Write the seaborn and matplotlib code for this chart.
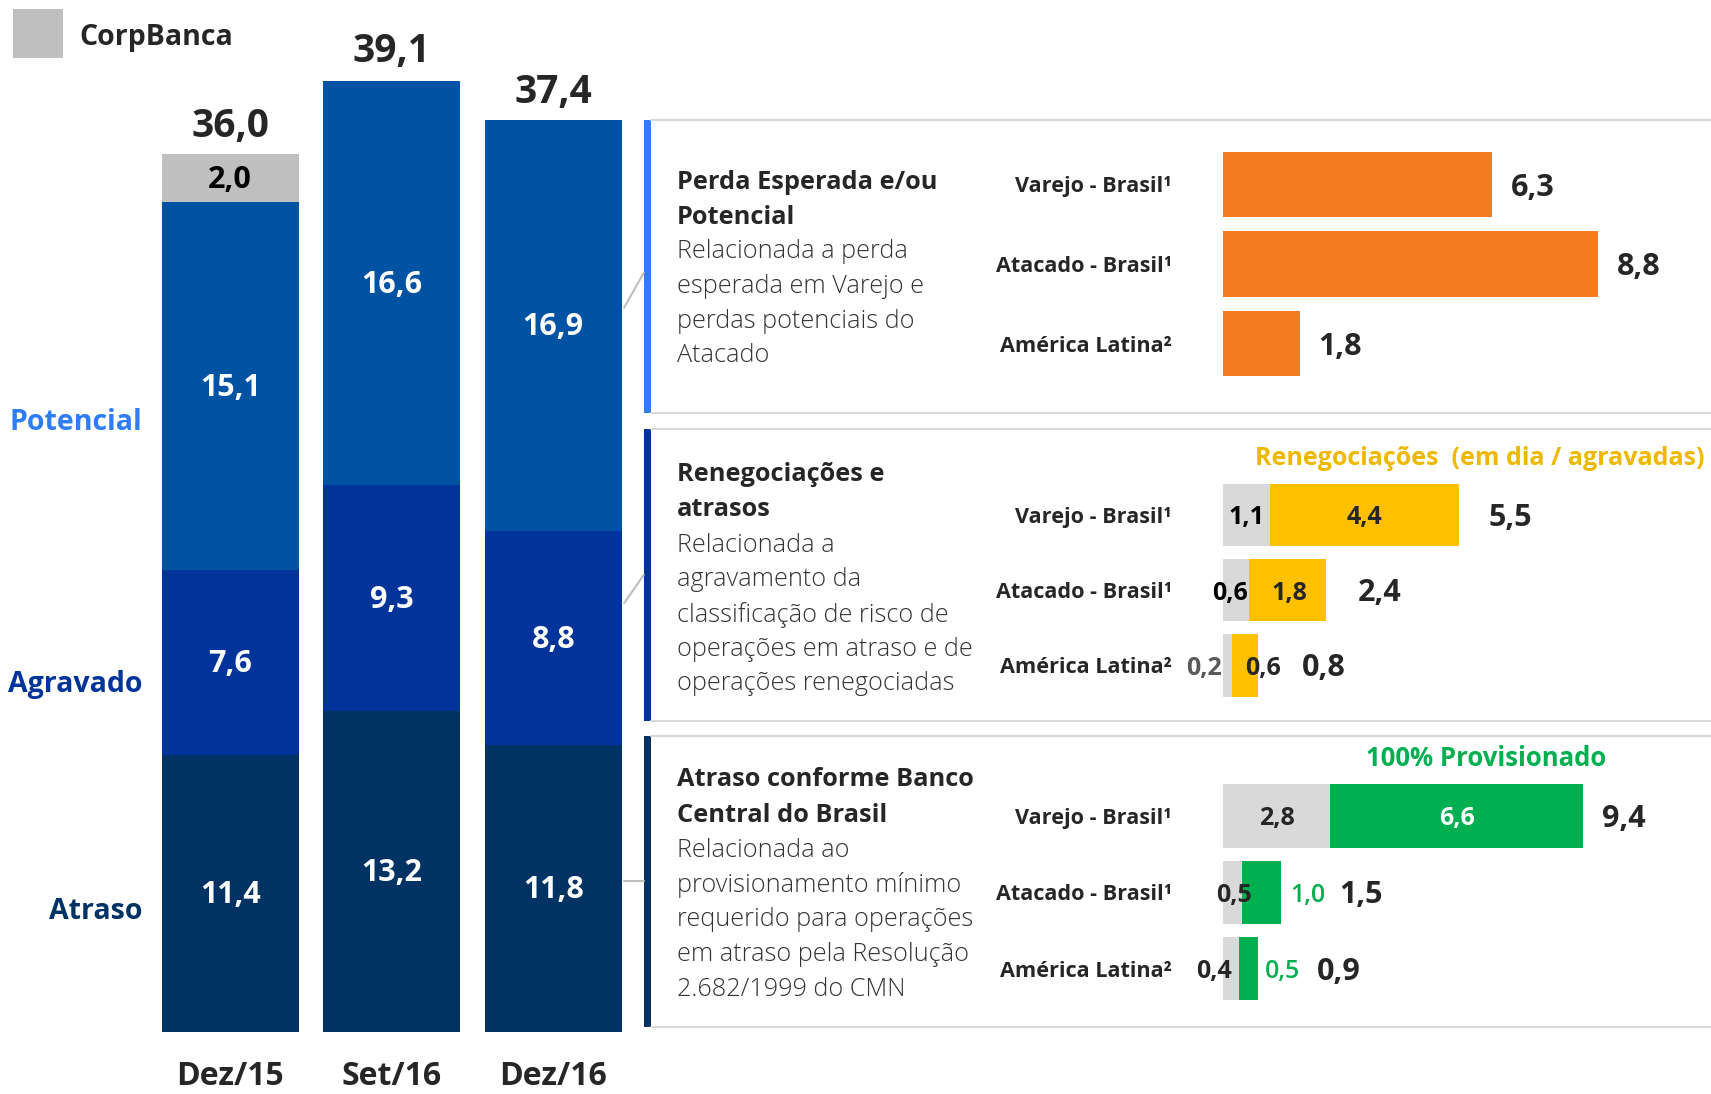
import matplotlib
matplotlib.use("Agg")
import matplotlib.pyplot as plt
from matplotlib.patches import Rectangle
from matplotlib.lines import Line2D
import seaborn as sns

# ---- data: left stacked bars (R$ bilhões)
periods = ["Dez/15", "Set/16", "Dez/16"]
atraso = [11.4, 13.2, 11.8]
agravado = [7.6, 9.3, 8.8]
potencial = [15.1, 16.6, 16.9]
corpbanca = [2.0, 0.0, 0.0]
totals = [36.0, 39.1, 37.4]

# ---- data: right panels
regions = ["Varejo - Brasil¹", "Atacado - Brasil¹", "América Latina²"]
perda = [6.3, 8.8, 1.8]
reneg_em_dia = [1.1, 0.6, 0.2]
reneg_agravadas = [4.4, 1.8, 0.6]
reneg_total = [5.5, 2.4, 0.8]
atr_outros = [2.8, 0.5, 0.4]
atr_provisionado = [6.6, 1.0, 0.5]
atr_total = [9.4, 1.5, 0.9]

panel_titles = [["Perda Esperada e/ou", "Potencial"],
                ["Renegociações e", "atrasos"],
                ["Atraso conforme Banco", "Central do Brasil"]]
panel_desc = [["Relacionada a perda", "esperada em Varejo e", "perdas potenciais do", "Atacado"],
              ["Relacionada a", "agravamento da", "classificação de risco de",
               "operações em atraso e de", "operações renegociadas"],
              ["Relacionada ao", "provisionamento mínimo", "requerido para operações",
               "em atraso pela Resolução", "2.682/1999 do CMN"]]

C_POT = "#0052A3"
C_AGR = "#00349A"
C_ATR = "#003264"
C_GRAY = "#BFBFBF"
C_LGRAY = "#D9D9D9"
C_ORANGE = "#F47B20"
C_YELLOW = "#FFC000"
C_GREEN = "#00B050"
C_BRIGHT = "#2F7DF6"

sns.set_style("white")
plt.rcParams["font.family"] = ["Open Sans", "DejaVu Sans"]

W, H = 1568.0, 1003.0  # layout grid (reference, shrunk)


def fx(x):
    return x / W


def fy(y):
    return 1 - y / H


def fmt(v):
    return f"{v:.1f}".replace(".", ",")


fig = plt.figure(figsize=(17.11, 10.94), dpi=100)

# ---------------- left stacked bars
ax = fig.add_axes([fx(137), fy(946), fx(444), 936.6 / H])
layers = [
    ([a + b + c + d for a, b, c, d in zip(atraso, agravado, potencial, corpbanca)], C_GRAY),
    ([a + b + c for a, b, c in zip(atraso, agravado, potencial)], C_POT),
    ([a + b for a, b in zip(atraso, agravado)], C_AGR),
    (atraso, C_ATR),
]
for vals, col in layers:
    sns.barplot(x=periods, y=vals, color=col, saturation=1, width=0.851,
                linewidth=0, ax=ax)
ax.set_xlim(-0.5, 2.5)
ax.set_ylim(0, 42)
sns.despine(ax=ax, left=True, bottom=True)
ax.set_yticks([])
ax.tick_params(axis="x", length=0, pad=20)
for t in ax.get_xticklabels():
    t.set_fontsize(23)
    t.set_fontweight("bold")

for i in range(len(periods)):
    base = 0
    for vals, col in [(atraso, "white"), (agravado, "white"),
                      (potencial, "white"), (corpbanca, "black")]:
        v = vals[i]
        if v > 0:
            ax.text(i, base + v / 2 - 0.08, fmt(v), ha="center", va="center",
                    color=col, fontsize=22, fontweight="bold")
        base += v
    ax.text(i, totals[i] + 1.22, fmt(totals[i]), ha="center", va="center",
            fontsize=28, fontweight="bold")

fig.text(fx(130), fy(387), "Potencial", ha="right", va="center",
         color=C_BRIGHT, fontsize=20.5, fontweight="bold")
fig.text(fx(131), fy(628), "Agravado", ha="right", va="center",
         color=C_AGR, fontsize=20.5, fontweight="bold")
fig.text(fx(131), fy(836), "Atraso", ha="right", va="center",
         color=C_ATR, fontsize=20.5, fontweight="bold")

# legend
fig.add_artist(Rectangle((fx(12), fy(53)), fx(46), 45 / H,
                         transform=fig.transFigure, color=C_GRAY, lw=0))
fig.text(fx(73), fy(34), "CorpBanca", ha="left", va="center",
         fontsize=20.5, fontweight="bold")

# ---------------- panel frames
panels = [(110, 379, C_BRIGHT), (393, 661, C_AGR), (675, 942, C_ATR)]
for top, bot, col in panels:
    fig.add_artist(Rectangle((fx(590), fy(bot)), fx(7), (bot - top) / H,
                             transform=fig.transFigure, color=col, lw=0))
    for yy in (top, bot):
        fig.add_artist(Line2D([fx(597), 1], [fy(yy), fy(yy)],
                              transform=fig.transFigure, color=C_LGRAY, lw=1.5))
for (x0, y0), (x1, y1) in [((572, 282), (590, 250)), ((572, 553), (590, 527)),
                           ((572, 808), (590, 808))]:
    fig.add_artist(Line2D([fx(x0), fx(x1)], [fy(y0), fy(y1)],
                          transform=fig.transFigure, color=C_GRAY, lw=1.5))

title_y = [(167, 231), (435, 500), (715, 780)]
for (ty, dy), tl, dl in zip(title_y, panel_titles, panel_desc):
    for k, s in enumerate(tl):
        fig.text(fx(620), fy(ty + 32.5 * k), s, ha="left", va="center",
                 fontsize=18.3, fontweight="bold")
    for k, s in enumerate(dl):
        fig.text(fx(620), fy(dy + 31.7 * k), s, ha="left", va="center",
                 fontsize=18.2, fontweight="light", color="#333333")


def hpanel(top, spacing, scale, width):
    a = fig.add_axes([fx(1121), fy(top + 3 * spacing), fx(447), 3 * spacing / H])
    return a, 447 / scale, width


def style_panel(a, xmax):
    a.set_xlim(0, xmax)
    a.set_ylim(2.5, -0.5)
    sns.despine(ax=a, left=True, bottom=True)
    a.set_xticks([])
    a.set_ylabel("")
    a.set_xlabel("")
    a.tick_params(axis="y", length=0, pad=37)
    for t in a.get_yticklabels():
        t.set_fontsize(15.6)
        t.set_fontweight("bold")
    a.patch.set_alpha(0)


DY = 0.04  # small downward nudge for centred labels

# panel 1
a1, xm1, w1 = hpanel(132.5, 73, 39.05, 0.82)
sns.barplot(x=perda, y=regions, orient="h", color=C_ORANGE, saturation=1,
            width=w1, linewidth=0, ax=a1)
style_panel(a1, xm1)
for i, v in enumerate(perda):
    a1.text(v + 0.44, i + DY, fmt(v), ha="left", va="center",
            fontsize=22, fontweight="bold")

# panel 2
a2, xm2, w2 = hpanel(437.5, 69, 39.3, 0.83)
sns.barplot(x=reneg_total, y=regions, orient="h", color=C_YELLOW, saturation=1,
            width=w2, linewidth=0, ax=a2)
sns.barplot(x=reneg_em_dia, y=regions, orient="h", color=C_LGRAY, saturation=1,
            width=w2, linewidth=0, ax=a2)
style_panel(a2, xm2)
dia_x = [0.55, 0.15, -0.46]
agr_x = [3.3, 1.55, 0.92]
tot_x = [6.18, 3.13, 1.83]
for i in range(3):
    a2.text(dia_x[i], i + DY, fmt(reneg_em_dia[i]), ha="center", va="center",
            fontsize=18, fontweight="bold",
            color="#595959" if i == 2 else "black")
    a2.text(agr_x[i], i + DY, fmt(reneg_agravadas[i]), ha="center", va="center",
            fontsize=18, fontweight="bold")
    a2.text(tot_x[i], i + DY, fmt(reneg_total[i]), ha="left", va="center",
            fontsize=22, fontweight="bold")
fig.text(fx(1150), fy(420), "Renegociações  (em dia / agravadas)", ha="left",
         va="center", fontsize=18, fontweight="bold", color="#EDB800")

# panel 3
a3, xm3, w3 = hpanel(713, 70, 35.1, 0.83)
sns.barplot(x=atr_total, y=regions, orient="h", color=C_GREEN, saturation=1,
            width=w3, linewidth=0, ax=a3)
sns.barplot(x=atr_outros, y=regions, orient="h", color=C_LGRAY, saturation=1,
            width=w3, linewidth=0, ax=a3)
style_panel(a3, xm3)
out_x = [1.4, 0.28, -0.23]
prov_x = [6.1, 2.22, 1.54]
tot3_x = [9.88, 3.02, 2.45]
for i in range(3):
    a3.text(out_x[i], i + DY, fmt(atr_outros[i]), ha="center", va="center",
            fontsize=18, fontweight="bold")
    a3.text(prov_x[i], i + DY, fmt(atr_provisionado[i]), ha="center", va="center",
            fontsize=18, fontweight="bold" if i == 0 else "semibold",
            color="white" if i == 0 else C_GREEN)
    a3.text(tot3_x[i], i + DY, fmt(atr_total[i]), ha="left", va="center",
            fontsize=22, fontweight="bold")
fig.text(fx(1362), fy(695), "100% Provisionado", ha="center", va="center",
         fontsize=18.5, fontweight="bold", color=C_GREEN)

fig.savefig("out.png", dpi=100)
